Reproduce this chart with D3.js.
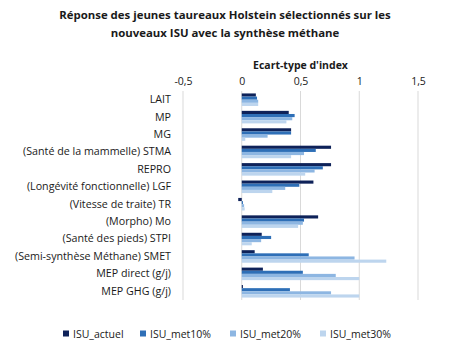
<!DOCTYPE html>
<html>
<head>
<meta charset="utf-8">
<script src="https://cdn.jsdelivr.net/npm/d3@7"></script>
<style>
  body { margin: 0; background: #fff; }
  text { font-family: "Open Sans", "Liberation Sans", sans-serif; fill: #1a1a1a; }
</style>
</head>
<body>
<div class="chart"></div>
<script>
// chart data
const categories = ["LAIT", "MP", "MG", "(Santé de la mammelle) STMA", "REPRO",
  "(Longévité fonctionnelle) LGF", "(Vitesse de traite) TR", "(Morpho) Mo",
  "(Santé des pieds) STPI", "(Semi-synthèse Méthane) SMET", "MEP direct (g/j)", "MEP GHG (g/j)"];
const seriesNames = ["ISU_actuel", "ISU_met10%", "ISU_met20%", "ISU_met30%"];
const isuActuel = [0.12, 0.40, 0.42, 0.76, 0.76, 0.61, -0.03, 0.65, 0.17, 0.11, 0.18, 0.01];
const isuMet10 = [0.13, 0.45, 0.42, 0.63, 0.69, 0.49, 0.01, 0.53, 0.25, 0.57, 0.52, 0.41];
const isuMet20 = [0.14, 0.43, 0.22, 0.53, 0.62, 0.37, 0.02, 0.52, 0.165, 0.96, 0.80, 0.76];
const isuMet30 = [0.14, 0.38, 0.03, 0.42, 0.54, 0.26, 0.025, 0.48, 0.085, 1.23, 1.00, 1.00];
const xTicks = [-0.5, 0, 0.5, 1, 1.5];

const colors = ["#0e2259", "#2e6fb7", "#8db6e2", "#bdd5ee"];
const allSeries = [isuActuel, isuMet10, isuMet20, isuMet30];

const svgWidth = 450;
const svgHeight = 349;
const margin = { top: 91, left: 183, right: 32, bottom: 49 };
const width = svgWidth - margin.left - margin.right;
const height = svgHeight - margin.top - margin.bottom;

const svg = d3.select(".chart").append("svg")
  .attr("width", svgWidth)
  .attr("height", svgHeight);

// title
svg.append("text")
  .attr("x", 225).attr("y", 19)
  .attr("text-anchor", "middle")
  .style("font-size", "11.4px").style("font-weight", "bold")
  .text("Réponse des jeunes taureaux Holstein sélectionnés sur les");
svg.append("text")
  .attr("x", 225).attr("y", 37)
  .attr("text-anchor", "middle")
  .style("font-size", "11.4px").style("font-weight", "bold")
  .text("nouveaux ISU avec la synthèse méthane");

const chartGroup = svg.append("g")
  .attr("transform", `translate(${margin.left}, ${margin.top})`);

// scales
const xScale = d3.scaleLinear().domain([-0.5, 1.5]).range([0, width]);
const yScale = d3.scaleBand().domain(categories).range([0, height]).paddingInner(0.28).paddingOuter(0.14);
const ySub = d3.scaleBand().domain(d3.range(4)).range([0, yScale.bandwidth()]);

// gridlines
chartGroup.append("g")
  .selectAll("line")
  .data(xTicks)
  .enter()
  .append("line")
  .attr("x1", d => xScale(d)).attr("x2", d => xScale(d))
  .attr("y1", 0).attr("y2", height)
  .attr("stroke", "#d9d9d9").attr("stroke-width", 1);

// top axis labels
const fmt = d => String(d).replace(".", ",");
const xAxis = d3.axisTop(xScale).tickValues(xTicks).tickFormat(fmt).tickSize(0).tickPadding(6);
const xAxisG = chartGroup.append("g").call(xAxis);
xAxisG.select(".domain").remove();
xAxisG.selectAll("text").style("font-size", "10.5px").style("font-family", null).attr("fill", null);

svg.append("text")
  .attr("x", margin.left + xScale(0.5)).attr("y", 69)
  .attr("text-anchor", "middle")
  .style("font-size", "10.5px").style("font-weight", "bold")
  .text("Ecart-type d'index");

// category labels
const yAxis = d3.axisLeft(yScale).tickSize(0).tickPadding(12);
const yAxisG = chartGroup.append("g").call(yAxis);
yAxisG.select(".domain").remove();
yAxisG.selectAll("text").style("font-size", "10.7px").style("font-family", null).attr("fill", null);

// bars
allSeries.forEach(function(values, s) {
  chartGroup.append("g")
    .selectAll("rect")
    .data(values)
    .enter()
    .append("rect")
    .attr("x", d => xScale(Math.min(0, d)))
    .attr("width", d => Math.abs(xScale(d) - xScale(0)))
    .attr("y", (d, i) => yScale(categories[i]) + ySub(s))
    .attr("height", ySub.bandwidth())
    .attr("fill", colors[s]);
});

// legend
const legendX = [63, 140, 230, 320];
const legend = svg.append("g")
  .selectAll("g")
  .data(seriesNames)
  .enter()
  .append("g")
  .attr("transform", (d, i) => `translate(${legendX[i]}, 334)`);

legend.append("rect")
  .attr("x", 0).attr("y", -3.5)
  .attr("width", 6).attr("height", 6)
  .attr("fill", (d, i) => colors[i]);

legend.append("text")
  .attr("x", 10).attr("y", 0)
  .attr("dy", "0.35em")
  .style("font-size", "10.5px")
  .text(d => d);
</script>
</body>
</html>
